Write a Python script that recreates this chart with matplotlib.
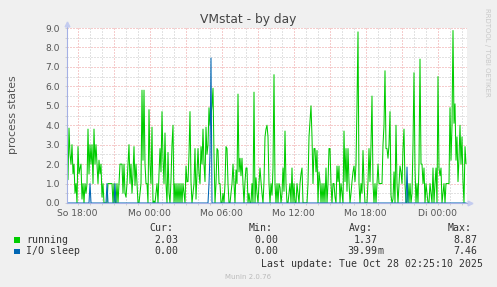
import matplotlib
matplotlib.use('Agg')
import matplotlib.pyplot as plt
import matplotlib.dates as mdates
from matplotlib.ticker import MultipleLocator, FuncFormatter
from matplotlib.patches import Rectangle
from datetime import datetime, timedelta

# 5-minute samples, Sun 26 Oct 2025 17:07 -> Tue 28 Oct 02:27
running = [
    2.0, 1.2, 3.85, 2.5, 2.0, 3.0, 1.5, 2.0, 0.5, 1.0,
    0.0, 2.9, 1.5, 1.8, 2.0, 0.2, 1.0, 0.0, 1.0, 0.5,
    1.0, 3.8, 1.5, 3.0, 2.0, 3.0, 1.0, 3.8, 2.0, 3.0,
    2.0, 1.0, 2.2, 1.5, 2.0, 0.3, 1.0, 0.0, 0.0, 0.0,
    0.0, 1.0, 1.0, 1.0, 1.0, 1.0, 0.0, 1.0, 0.0, 0.0,
    1.0, 0.0, 1.0, 2.0, 2.0, 2.0, 0.5, 2.0, 0.5, 0.3,
    1.0, 2.0, 3.0, 1.0, 2.0, 0.5, 1.5, 2.9, 0.9, 2.0,
    1.0, 0.0, 0.0, 0.5, 1.0, 5.8, 2.2, 5.8, 2.0, 1.0,
    1.0, 0.0, 4.8, 2.0, 1.0, 3.9, 0.0, 0.1, 0.0, 0.5,
    1.0, 0.0, 1.5, 2.8, 1.6, 4.7, 2.3, 1.0, 3.6, 1.0,
    0.0, 2.6, 0.5, 0.0, 1.2, 3.0, 4.0, 0.0, 1.0, 0.0,
    1.0, 0.0, 1.0, 0.0, 1.0, 0.0, 1.0, 0.5, 0.0, 1.9,
    1.1, 1.1, 2.5, 4.7, 1.1, 0.0, 0.5, 1.0, 2.8, 0.2,
    1.5, 2.8, 1.5, 1.0, 2.9, 2.0, 3.8, 2.0, 1.1, 3.9,
    2.5, 3.0, 4.9, 4.0, 4.5, 5.0, 5.9, 2.5, 0.0, 1.0,
    2.8, 2.7, 1.0, 1.0, 0.0, 0.0, 0.5, 0.0, 1.0, 2.9,
    2.8, 1.0, 0.0, 0.0, 0.5, 1.0, 2.0, 1.0, 0.0, 1.7,
    1.0, 5.6, 1.6, 2.3, 1.4, 2.3, 1.0, 0.0, 1.1, 1.8,
    1.8, 0.0, 0.5, 0.0, 0.0, 1.0, 0.0, 5.7, 0.0, 1.3,
    0.5, 0.0, 1.0, 1.8, 1.1, 0.5, 0.0, 1.1, 3.4, 3.8,
    4.0, 3.4, 1.0, 0.0, 1.0, 0.4, 1.8, 6.6, 1.0, 0.0,
    1.0, 0.0, 1.0, 0.8, 0.0, 0.5, 1.8, 0.6, 3.7, 1.0,
    0.0, 0.0, 0.5, 1.0, 0.0, 1.8, 0.0, 1.0, 0.0, 0.0,
    1.0, 0.5, 0.0, 1.0, 1.5, 1.8, 0.0, 0.0, 0.0, 0.0,
    0.0, 1.0, 3.4, 4.2, 5.0, 3.4, 1.0, 2.8, 2.8, 1.6,
    2.7, 0.0, 1.6, 1.1, 0.0, 1.0, 0.0, 1.0, 0.0, 1.8,
    0.0, 1.0, 2.8, 2.8, 1.0, 0.0, 1.0, 1.0, 0.3, 0.0,
    1.9, 1.1, 1.9, 0.0, 1.0, 0.5, 0.0, 3.7, 1.1, 2.8,
    0.6, 2.8, 1.1, 0.0, 0.5, 1.1, 1.6, 1.9, 1.1, 2.0,
    5.0, 8.8, 1.0, 0.0, 1.0, 0.5, 2.7, 1.0, 0.0, 0.0,
    0.0, 1.1, 2.8, 1.1, 3.0, 5.5, 1.0, 0.0, 1.0, 0.0,
    1.0, 2.0, 1.0, 1.0, 1.0, 1.0, 3.0, 4.0, 6.8, 2.8,
    2.8, 2.3, 3.0, 4.7, 0.4, 0.0, 0.2, 1.6, 0.0, 4.0,
    1.0, 0.0, 1.0, 1.9, 1.6, 1.0, 2.8, 3.8, 1.0, 0.0,
    0.0, 1.0, 0.0, 1.0, 0.0, 0.5, 3.0, 6.7, 1.8, 0.0,
    1.0, 0.0, 2.0, 7.4, 2.0, 2.0, 1.0, 1.8, 0.0, 1.0,
    0.5, 0.0, 0.0, 1.0, 0.5, 0.0, 1.8, 0.0, 1.0, 1.8,
    0.0, 6.5, 1.8, 1.4, 1.8, 0.0, 0.5, 1.0, 0.0, 1.0,
    1.0, 1.0, 1.0, 4.9, 2.2, 4.0, 8.87, 4.1, 5.1, 2.2,
    3.4, 1.1, 2.3, 4.0, 2.0, 3.4, 1.1, 0.0, 2.9, 2.03,
]

# I/O sleep is zero except for a few samples
io_index = [23, 40, 48, 142, 143, 144, 340]
io_value = [1.0, 1.0, 1.0, 1.0, 2.5, 7.46, 1.85]

series_names = ['running', 'I/O sleep']
series_colors = ['#00CC00', '#0066B3']
cur_vals = ['2.03', '0.00']
min_vals = ['0.00', '0.00']
avg_vals = ['1.37', '39.99']
avg_units = ['', 'm']
max_vals = ['8.87', '7.46']
day_abbr = ['Mo', 'Di', 'Mi', 'Do', 'Fr', 'Sa', 'So']

io_sleep = [0.0] * len(running)
for i, v in zip(io_index, io_value):
    io_sleep[i] = v

start = datetime(2025, 10, 26, 17, 7)
times = [start + timedelta(minutes=5 * i) for i in range(len(running))]
t_end = start + timedelta(minutes=5 * 400)

W, H = 497, 287
def fx(px):
    return px / W
def fy(py):
    return 1 - py / H

fig = plt.figure(figsize=(W / 100, H / 100), dpi=100, facecolor='#F0F0F0')
ax = fig.add_axes([fx(67), fy(203), 400 / W, 175 / H])
ax.set_facecolor('white')

ax.plot(times, running, color=series_colors[0], lw=0.75)
ax.plot(times, io_sleep, color=series_colors[1], lw=0.75)

ax.set_xlim(start, t_end)
ax.set_ylim(0, 9)

axcol = '#A4B0E4'
for s in ['top', 'right']:
    ax.spines[s].set_visible(False)
for s in ['left', 'bottom']:
    ax.spines[s].set_color(axcol)
    ax.spines[s].set_linewidth(0.8)
    ax.spines[s].set_zorder(5)

# little arrows at the ends of the axes
ax.plot([0, 0], [1, 1.035], transform=ax.transAxes, clip_on=False, color=axcol, lw=0.8)
ax.plot([0], [1.022], marker='^', ms=3.4, color='#C4CCF0', transform=ax.transAxes, clip_on=False)
ax.plot([1, 1.012], [0, 0], transform=ax.transAxes, clip_on=False, color=axcol, lw=0.8)
ax.plot([1.008], [0], marker='>', ms=3.4, color='#C4CCF0', transform=ax.transAxes, clip_on=False)

ax.xaxis.set_major_locator(mdates.HourLocator(byhour=range(0, 24, 3)))
ax.xaxis.set_minor_locator(mdates.HourLocator())

def xfmt(x, pos):
    d = mdates.num2date(x)
    if d.hour % 6:
        return ''
    return f"{day_abbr[d.weekday()]} {d:%H:%M}"

ax.xaxis.set_major_formatter(FuncFormatter(xfmt))
ax.yaxis.set_major_locator(MultipleLocator(1))
ax.yaxis.set_minor_locator(MultipleLocator(0.5))
ax.yaxis.set_major_formatter(FuncFormatter(lambda v, p: f"{v:.1f}"))

ax.set_axisbelow(True)
ax.grid(which='major', color='#EC9A9A', linestyle=(0, (1, 2)), lw=0.72)
ax.grid(which='minor', color='#C6C6C6', linestyle=(0, (1, 2)), lw=0.72)

ax.tick_params(which='both', length=1.5, width=0.7, color='#D0D0D0',
               labelsize=6.6, labelcolor='#555555')
ax.tick_params(axis='x', pad=2.5)
ax.tick_params(axis='y', pad=3.5)

fig.text(fx(248.5), fy(19), 'VMstat - by day', ha='center', va='center',
         fontsize=8.8, color='#444444')
fig.text(fx(13), fy(115), 'process states', rotation=90, ha='center', va='center',
         fontsize=7.8, color='#555555')
fig.text(fx(487), fy(52), 'RRDTOOL / TOBI OETIKER', rotation=270, ha='center',
         va='center', fontsize=5, color='#C8C8C8')

# legend block
mono = dict(family='DejaVu Sans Mono', fontsize=7.1, color='#333333', va='center')
col_end = [178.6, 278.0, 377.6, 477.0]
for x, lab in zip(col_end, ['Cur:', 'Min:', 'Avg:', 'Max:']):
    fig.text(fx(x - 5.0), fy(228.3), lab, ha='right', **mono)

rows_y = [240.0, 251.3]
for k in range(2):
    y = rows_y[k]
    fig.add_artist(Rectangle((fx(14), fy(y + 2.7)), 5.5 / W, 5.5 / H,
                             transform=fig.transFigure, facecolor=series_colors[k],
                             edgecolor='none'))
    fig.text(fx(26.5), fy(y), series_names[k], ha='left', **mono)
    vals = [cur_vals[k], min_vals[k], avg_vals[k], max_vals[k]]
    for x, v in zip(col_end, vals):
        fig.text(fx(x), fy(y), v, ha='right', **mono)
    if avg_units[k]:
        fig.text(fx(col_end[2] + 0.3), fy(y), avg_units[k], ha='left', **mono)

fig.text(fx(482.6), fy(263.7), 'Last update: Tue Oct 28 02:25:10 2025', ha='right', **mono)
fig.text(fx(248), fy(276.7), 'Munin 2.0.76', ha='center', va='center',
         fontsize=5, color='#BBBBBB')

fig.savefig('out.png', dpi=100, facecolor=fig.get_facecolor())
